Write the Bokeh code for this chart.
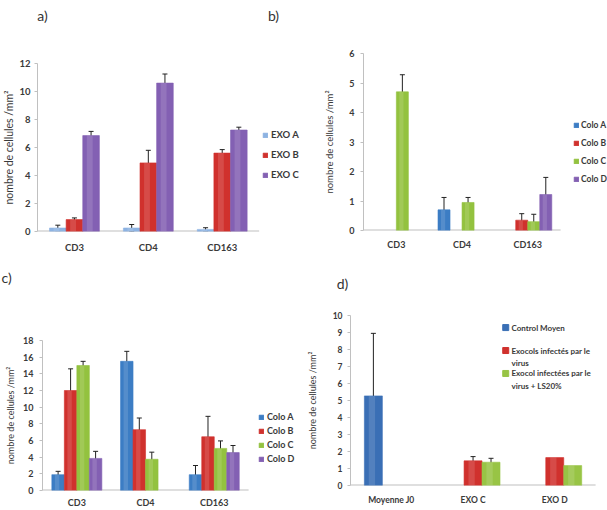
from bokeh.plotting import figure
from bokeh.models import (ColumnDataSource, Whisker, TeeHead, Legend, LegendItem,
                          Label, Range1d, FixedTicker)
from bokeh.transform import dodge
from bokeh.layouts import column, row
from bokeh.embed import file_html
from bokeh.resources import INLINE
from bokeh.core.properties import value

FONT = "Lato"
TXT = "#3a3a3a"
AXC = "#C0C0C0"
YTITLE = "nombre de cellules /mm²"

# ---------------- data ----------------
a_cats = ["CD3", "CD4", "CD163"]
a_series = ["EXO A", "EXO B", "EXO C"]
a_exo_a = [0.25, 0.25, 0.15]
a_exo_b = [0.85, 4.9, 5.6]
a_exo_c = [6.85, 10.6, 7.25]
a_err_a = [0.2, 0.25, 0.12]
a_err_b = [0.12, 0.9, 0.25]
a_err_c = [0.3, 0.65, 0.2]
a_ticks = [0, 2, 4, 6, 8, 10, 12]

b_cats = ["CD3", "CD4", "CD163"]
b_series = ["Colo A", "Colo B", "Colo C", "Colo D"]
b_colo_a = [0, 0.7, 0]
b_colo_b = [0, 0, 0.35]
b_colo_c = [4.7, 0.95, 0.3]
b_colo_d = [0, 0, 1.22]
b_err_a = [0, 0.42, 0]
b_err_b = [0, 0, 0.22]
b_err_c = [0.58, 0.17, 0.25]
b_err_d = [0, 0, 0.58]
b_ticks = [0, 1, 2, 3, 4, 5, 6]

c_cats = ["CD3", "CD4", "CD163"]
c_series = ["Colo A", "Colo B", "Colo C", "Colo D"]
c_colo_a = [1.9, 15.5, 1.9]
c_colo_b = [12.0, 7.3, 6.45]
c_colo_c = [15.0, 3.75, 5.05]
c_colo_d = [3.85, 0, 4.55]
c_err_a = [0.4, 1.2, 1.1]
c_err_b = [2.6, 1.4, 2.45]
c_err_c = [0.5, 0.85, 0.9]
c_err_d = [0.85, 0, 0.85]
c_ticks = [0, 2, 4, 6, 8, 10, 12, 14, 16, 18]

d_cats = ["Moyenne J0", "EXO C", "EXO D"]
d_series = ["Control Moyen", "Exocols infectés par le virus",
            "Exocol infectées par le virus + LS20%"]
d_control = [5.27, 0, 0]
d_exocols = [0, 1.45, 1.64]
d_exocol_ls = [0, 1.37, 1.17]
d_err_control = [3.68, 0, 0]
d_err_exocols = [0, 0.25, 0]
d_err_exocol_ls = [0, 0.23, 0]
d_ticks = [0, 1, 2, 3, 4, 5, 6, 7, 8, 9, 10]

panel_tags = ["a)", "b)", "c)", "d)"]

BLUE_L = "#8DB3E2"
BLUE = "#3C7DC4"
RED = "#D0312D"
GREEN = "#93C23F"
PURPLE = "#8360B3"
D_BLUE = "#3A6FB5"
D_GREEN = "#98C445"


def panel(cats, series, vals, errs, colors, W, H, L, R, T, B, xmax, ymax, ticks,
          bw, fs, tfs, ystand, tstand, xstand):
    p = figure(x_range=Range1d(0, xmax), y_range=Range1d(0, ymax),
               width=W, height=H, output_backend="svg", toolbar_location=None,
               min_border_left=L, min_border_right=R, min_border_top=T,
               min_border_bottom=B)
    p.frame_align = False
    p.outline_line_color = None
    p.xgrid.grid_line_color = None
    p.ygrid.grid_line_color = None
    # category slots: one unit per category, centred on i + 0.5
    pos = [i + 0.5 for i in range(len(cats))]
    p.yaxis.ticker = FixedTicker(ticks=ticks)
    p.xaxis.ticker = FixedTicker(ticks=pos)
    p.xaxis.major_label_overrides = {x: c for x, c in zip(pos, cats)}
    for ax in (p.xaxis, p.yaxis):
        ax.axis_line_color = AXC
        ax.major_label_text_font = FONT
        ax.major_label_text_font_style = "bold"
        ax.major_label_text_font_size = fs
        ax.major_label_text_color = TXT
        ax.minor_tick_line_color = None
        ax.minor_tick_out = 0
        ax.minor_tick_in = 0
    p.xaxis.axis_line_color = None
    p.xaxis.major_tick_line_color = None
    p.xaxis.major_tick_out = 0
    p.xaxis.major_tick_in = 0
    p.xaxis.major_label_standoff = xstand
    p.yaxis.major_tick_line_color = AXC
    p.yaxis.major_tick_out = 3
    p.yaxis.major_tick_in = 0
    p.yaxis.major_label_standoff = ystand
    p.yaxis.axis_label = YTITLE
    p.yaxis.axis_label_text_font = FONT
    p.yaxis.axis_label_text_font_style = "normal"
    p.yaxis.axis_label_text_font_size = tfs
    p.yaxis.axis_label_text_color = TXT
    p.yaxis.axis_label_standoff = tstand
    # category axis line only under the categories
    p.segment(x0=[0], y0=[0], x1=[len(cats)], y1=[0], line_color=AXC,
              line_width=2)

    n = len(series)
    rends = []
    for i, (s, v, e, c) in enumerate(zip(series, vals, errs, colors)):
        off = (i - (n - 1) / 2) * bw
        keep = [k for k in range(len(cats)) if v[k] > 0]
        src = ColumnDataSource(dict(pos=[pos[k] for k in keep],
                                    top=[v[k] for k in keep]))
        r = p.vbar(x=dodge("pos", off), top="top", width=bw,
                   source=src, fill_color=c, line_color=c, line_alpha=0.6)
        # soft highlight imitating the shaded Excel bars
        p.vbar(x=dodge("pos", off - bw * 0.08), top="top",
               width=bw * 0.35, source=src, fill_color="white", fill_alpha=0.13,
               line_color=None)
        rends.append(r)
        keep = [k for k in range(len(cats)) if e[k] > 0]
        if keep:
            es = ColumnDataSource(dict(pos=[pos[k] for k in keep],
                                       upper=[v[k] + e[k] for k in keep],
                                       lower=[v[k] - e[k] for k in keep]))
            w = Whisker(source=es, base=dodge("pos", off),
                        upper="upper", lower="lower", line_color="#222222",
                        line_width=1,
                        upper_head=TeeHead(size=5, line_color="#222222", line_width=1),
                        lower_head=TeeHead(size=5, line_color="#222222", line_width=1))
            p.add_layout(w)
    return p, rends


def add_legend(p, series, rends, loc, spacing, fs, standoff=3):
    items = [LegendItem(label=s, renderers=[r]) for s, r in zip(series, rends)]
    lg = Legend(items=items, location=loc, border_line_color=None,
                background_fill_alpha=0, padding=0, margin=0, spacing=spacing,
                glyph_width=6, glyph_height=6, label_height=10,
                label_standoff=standoff,
                label_text_font=FONT, label_text_font_style="bold",
                label_text_font_size=fs, label_text_color=TXT)
    p.add_layout(lg)


def strip(W, H, xs, ys, texts, aligns):
    s = figure(width=W, height=H, x_range=Range1d(0, W), y_range=Range1d(H, 0),
               output_backend="svg", toolbar_location=None,
               x_axis_type=None, y_axis_type=None,
               min_border_left=0, min_border_right=0, min_border_top=0,
               min_border_bottom=0)
    s.frame_align = False
    s.outline_line_color = None
    s.xgrid.grid_line_color = None
    s.ygrid.grid_line_color = None
    src = ColumnDataSource(dict(x=xs, y=ys, t=texts, a=aligns))
    s.text(x="x", y="y", text="t", text_align="a", text_baseline="middle",
           source=src, text_font=value(FONT), text_font_size="14px",
           text_color="#333333")
    return s


# top strip with tags a) and b)
top = strip(607, 30, [42, 273], [15, 15], panel_tags[:2], ["center", "center"])

# panel a  (frame 33..302, 75 px per category)
pa, ra = panel(a_cats, a_series, [a_exo_a, a_exo_b, a_exo_c],
               [a_err_a, a_err_b, a_err_c], [BLUE_L, RED, PURPLE],
               303, 225, 33, 1, 33, 24, 269 / 75, 12, a_ticks, 0.225,
               "9.5px", "10.5px", 4, 1, 10)
add_legend(pa, a_series, ra, (225, 51), 9, "9.5px")

# panel b  (frame 60..304, 65.7 px per category)
pb, rb = panel(b_cats, b_series, [b_colo_a, b_colo_b, b_colo_c, b_colo_d],
               [b_err_a, b_err_b, b_err_c, b_err_d], [BLUE, RED, GREEN, PURPLE],
               304, 225, 60, 0, 23, 25, 244 / 65.7, 6, b_ticks, 0.183,
               "9px", "9.5px", 6, 11, 8)
add_legend(pb, b_series, rb, (210, 46), 8, "8.5px", 2)

# middle strip with tags c) and d)
mid = strip(607, 45, [1, 342], [22, 28], panel_tags[2:], ["left", "center"])

# panel c  (frame 42..302, 68.7 px per category)
pc, rc = panel(c_cats, c_series, [c_colo_a, c_colo_b, c_colo_c, c_colo_d],
               [c_err_a, c_err_b, c_err_c, c_err_d], [BLUE, RED, GREEN, PURPLE],
               303, 210, 42, 1, 40, 18, 260 / 68.7, 18, c_ticks, 0.182,
               "9px", "9px", 6, 4, 6)
add_legend(pc, c_series, rc, (216, 26), 3, "9px")

# panel d  (frame 47..300, 81.7 px per category)
pd_, rd = panel(d_cats, d_series, [d_control, d_exocols, d_exocol_ls],
                [d_err_control, d_err_exocols, d_err_exocol_ls],
                [D_BLUE, RED, D_GREEN],
                304, 210, 47, 4, 15, 25, 253 / 81.7, 10, d_ticks, 0.22,
                "8.5px", "9px", 5, 12, 9)
# legend of panel d (inside the plot area)
d_leg_lines = [["Control Moyen"],
               ["Exocols infectés par le", "virus"],
               ["Exocol infectées par le", "virus + LS20%"]]
d_leg_y = [9.29, 7.94, 6.59]
d_leg_colors = [D_BLUE, RED, D_GREEN]
for lines, y0, col in zip(d_leg_lines, d_leg_y, d_leg_colors):
    pd_.scatter(x=[1.9], y=[y0], marker="square", size=6, color=col)
    for j, t in enumerate(lines):
        pd_.add_layout(Label(x=1.97, y=y0 - j * 0.74, text=t, text_font=FONT,
                             text_font_size="8px", text_font_style="bold",
                             text_color=TXT, text_baseline="middle"))

layout = column(top, row(pa, pb), mid, row(pc, pd_))
open("out.html", "w").write(file_html(layout, INLINE))
